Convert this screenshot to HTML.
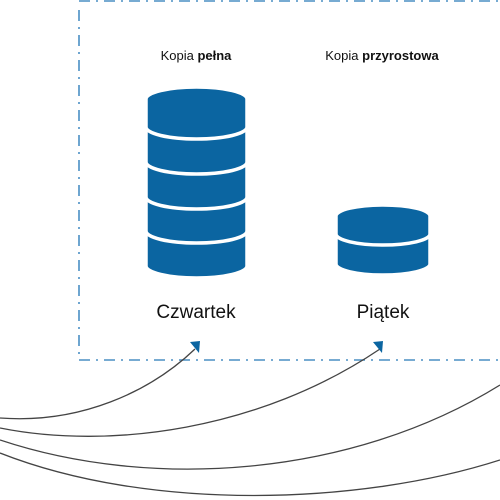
<!DOCTYPE html>
<html><head><meta charset="utf-8"><style>
html,body{margin:0;padding:0;background:#fff;}
svg{display:block;}
text{font-family:"Liberation Sans","DejaVu Sans",sans-serif;}
</style></head><body>
<svg width="500" height="500" viewBox="0 0 500 500" xmlns="http://www.w3.org/2000/svg">
<g stroke="#4a8fc4" stroke-width="1.6" fill="none" stroke-dasharray="11 6 2 6">
<path d="M79 1 H500"/>
<path d="M79 10 V360"/>
<path d="M79 360 H500"/>
</g>
<text x="196" y="60" font-size="13" text-anchor="middle" fill="#111">Kopia <tspan font-weight="bold">pełna</tspan></text>
<text x="382" y="60" font-size="13" text-anchor="middle" fill="#111">Kopia <tspan font-weight="bold">przyrostowa</tspan></text>
<g fill="#0b65a1" stroke="#fff" stroke-width="3.5">
<path d="M146 235 A50.5 12 0 0 1 247 235 V266 A50.5 12 0 0 1 146 266 Z"/>
<path d="M146 200 A50.5 12 0 0 1 247 200 V231 A50.5 12 0 0 1 146 231 Z"/>
<path d="M146 166 A50.5 12 0 0 1 247 166 V197 A50.5 12 0 0 1 146 197 Z"/>
<path d="M146 131 A50.5 12 0 0 1 247 131 V162 A50.5 12 0 0 1 146 162 Z"/>
<path d="M146 99 A50.5 12 0 0 1 247 99 V127 A50.5 12 0 0 1 146 127 Z"/>
<path d="M336 238 A47 11 0 0 1 430 238 V264 A47 11 0 0 1 336 264 Z"/>
<path d="M336 216 A47 11 0 0 1 430 216 V234 A47 11 0 0 1 336 234 Z"/>
</g>
<text x="196" y="318" font-size="19" text-anchor="middle" fill="#111">Czwartek</text>
<text x="383" y="318" font-size="19" text-anchor="middle" fill="#111">Piątek</text>
<g stroke="#444" stroke-width="1.3" fill="none">
<path d="M0 418 C80 424 150 392 195 349"/>
<path d="M0 428 C110 450 260 430 380 349"/>
<path d="M0 440 C150 490 350 478 500 385"/>
<path d="M0 453 C150 512 360 505 500 460"/>
</g>
<g fill="#0b65a1">
<path d="M190 342 L200 341 L199 353 Z"/>
<path d="M373 342 L383 341 L382 353 Z"/>
</g>
</svg>
</body></html>
